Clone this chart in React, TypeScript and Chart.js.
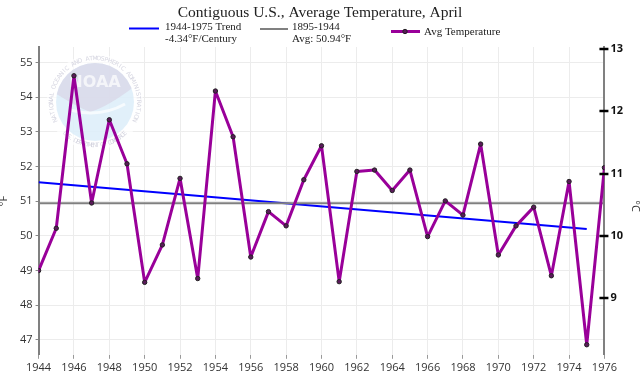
import { useEffect, useRef } from 'react';
import { Chart, registerables } from 'chart.js';
Chart.register(...registerables);

const chartTitle = 'Contiguous U.S., Average Temperature, April';
const years = [1944, 1945, 1946, 1947, 1948, 1949, 1950, 1951, 1952, 1953, 1954, 1955, 1956, 1957, 1958, 1959, 1960, 1961, 1962, 1963, 1964, 1965, 1966, 1967, 1968, 1969, 1970, 1971, 1972, 1973, 1974, 1975, 1976];
const avgTempF = [49.0, 50.22, 54.62, 50.95, 53.35, 52.08, 48.66, 49.74, 51.66, 48.77, 54.18, 52.86, 49.39, 50.70, 50.29, 51.62, 52.60, 48.68, 51.86, 51.90, 51.31, 51.90, 49.98, 51.01, 50.60, 52.65, 49.45, 50.29, 50.83, 48.85, 51.57, 46.86, 51.97];
const trendYears = [1944, 1975];
const trendF = [51.55, 50.2];
const baseYears = [1944, 1976];
const baseF = [50.94, 50.94];
const xTicks = [1944, 1946, 1948, 1950, 1952, 1954, 1956, 1958, 1960, 1962, 1964, 1966, 1968, 1970, 1972, 1974, 1976];
const fTicks = [47, 48, 49, 50, 51, 52, 53, 54, 55];
const cTicks = [9, 10, 11, 12, 13];
const trendLabel = ['1944-1975 Trend', '-4.34°F/Century'];
const baseLabel = ['1895-1944', 'Avg: 50.94°F'];
const tempLabel = 'Avg Temperature';
const fMin = 46.57;
const fMax = 55.45;
const toC = (f: number) => ((f - 32) * 5) / 9;

const BLUE = '#0000ff';
const GREY = '#808080';
const PURPLE = '#990099';

function drawArcText(ctx: CanvasRenderingContext2D, text: string, cx: number, cy: number, r: number, startAng: number, endAng: number, outside: boolean) {
  const n = text.length;
  for (let i = 0; i < n; i++) {
    const a = startAng + ((endAng - startAng) * (i + 0.5)) / n;
    ctx.save();
    ctx.translate(cx + r * Math.cos(a), cy + r * Math.sin(a));
    ctx.rotate(outside ? a + Math.PI / 2 : a - Math.PI / 2);
    ctx.fillText(text[i], 0, 0);
    ctx.restore();
  }
}

const decor = {
  id: 'decor',
  beforeDatasetsDraw(chart: any) {
    const ctx = chart.ctx as CanvasRenderingContext2D;
    const cx = 95, cy = 102;
    ctx.save();
    ctx.globalAlpha = 0.7;
    ctx.fillStyle = '#ffffff';
    ctx.beginPath(); ctx.arc(cx, cy, 48, 0, Math.PI * 2); ctx.fill();
    ctx.beginPath(); ctx.arc(cx, cy, 39, 0, Math.PI * 2); ctx.fillStyle = '#d4eaf8'; ctx.fill();
    ctx.save();
    ctx.beginPath(); ctx.arc(cx, cy, 39, 0, Math.PI * 2); ctx.clip();
    ctx.beginPath();
    ctx.moveTo(cx - 45, cy - 12);
    ctx.quadraticCurveTo(cx - 20, cy + 4, cx - 5, cy + 10);
    ctx.quadraticCurveTo(cx + 15, cy + 4, cx + 45, cy - 20);
    ctx.lineTo(cx + 45, cy - 50); ctx.lineTo(cx - 45, cy - 50); ctx.closePath();
    ctx.fillStyle = '#d8d4e6'; ctx.fill();
    ctx.strokeStyle = '#ffffff'; ctx.lineWidth = 3;
    ctx.beginPath();
    ctx.moveTo(cx - 25, cy + 8);
    ctx.quadraticCurveTo(cx + 5, cy + 16, cx + 30, cy + 2);
    ctx.stroke();
    ctx.restore();
    ctx.fillStyle = '#ffffff';
    ctx.font = 'bold 16px "DejaVu Sans"';
    ctx.textAlign = 'center'; ctx.textBaseline = 'middle';
    ctx.fillText('NOAA', cx, cy - 19);
    ctx.fillStyle = '#c4c4d4';
    ctx.font = '6px "DejaVu Sans"';
    drawArcText(ctx, 'NATIONAL OCEANIC AND ATMOSPHERIC ADMINISTRATION', cx, cy, 43.5, Math.PI * 0.85, Math.PI * 2.15, true);
    drawArcText(ctx, 'U.S. DEPARTMENT OF COMMERCE', cx, cy, 43.5, Math.PI * 0.75, Math.PI * 0.25, false);
    ctx.restore();
  },
  afterDraw(chart: any) {
    const ctx = chart.ctx as CanvasRenderingContext2D;
    const area = chart.chartArea;
    ctx.save();
    // title
    ctx.fillStyle = '#222';
    ctx.font = '15.5px "Liberation Serif"';
    ctx.textAlign = 'center'; ctx.textBaseline = 'middle';
    ctx.fillText(chartTitle, 320, 13);
    // legend
    ctx.font = '11px "Liberation Serif"';
    ctx.textAlign = 'left';
    ctx.lineCap = 'butt';
    ctx.strokeStyle = BLUE; ctx.lineWidth = 2;
    ctx.beginPath(); ctx.moveTo(129, 28.5); ctx.lineTo(159, 28.5); ctx.stroke();
    ctx.fillText(trendLabel[0], 165, 27);
    ctx.fillText(trendLabel[1], 165, 39);
    ctx.strokeStyle = GREY; ctx.lineWidth = 2;
    ctx.beginPath(); ctx.moveTo(260, 29); ctx.lineTo(288, 29); ctx.stroke();
    ctx.fillText(baseLabel[0], 292, 27);
    ctx.fillText(baseLabel[1], 292, 39);
    ctx.strokeStyle = PURPLE; ctx.lineWidth = 3;
    ctx.beginPath(); ctx.moveTo(391, 31.5); ctx.lineTo(420, 31.5); ctx.stroke();
    ctx.beginPath(); ctx.arc(405, 31.5, 2.2, 0, Math.PI * 2);
    ctx.fillStyle = '#5a1a5a'; ctx.fill(); ctx.strokeStyle = '#222'; ctx.lineWidth = 1; ctx.stroke();
    ctx.fillStyle = '#222';
    ctx.fillText(tempLabel, 424, 32);
    // axis titles
    ctx.font = '11px "Open Sans"';
    ctx.fillStyle = '#333';
    ctx.textAlign = 'center';
    ctx.save(); ctx.translate(4, 201); ctx.rotate(-Math.PI / 2); ctx.fillText('°F', 0, 0); ctx.restore();
    ctx.save(); ctx.translate(635, 206); ctx.rotate(Math.PI / 2); ctx.fillText('°C', 0, 0); ctx.restore();
    // right axis tick marks crossing the axis
    const y2 = chart.scales.y2;
    ctx.strokeStyle = '#000'; ctx.lineWidth = 2.5;
    cTicks.forEach((t) => {
      const py = Math.round(y2.getPixelForValue(t));
      ctx.beginPath(); ctx.moveTo(area.right - 5, py); ctx.lineTo(area.right + 4, py); ctx.stroke();
    });
    ctx.restore();
  },
};

export default function App() {
  const ref = useRef<HTMLCanvasElement>(null);
  useEffect(() => {
    document.body.style.margin = '0';
    const tickFont = { family: '"Open Sans"', size: 11 };
    const chart = new Chart(ref.current!, {
      type: 'line',
      data: {
        datasets: [
          {
            label: tempLabel,
            data: years.map((x, i) => ({ x, y: avgTempF[i] })),
            borderColor: PURPLE,
            borderWidth: 3,
            borderJoinStyle: 'round',
            borderCapStyle: 'round',
            pointRadius: 2.2,
            pointBackgroundColor: '#5a1a5a',
            pointBorderColor: '#222',
            pointBorderWidth: 1,
            yAxisID: 'y',
          },
          {
            label: baseLabel.join(' '),
            data: baseYears.map((x, i) => ({ x, y: baseF[i] })),
            borderColor: GREY,
            borderWidth: 2,
            pointRadius: 0,
            yAxisID: 'y',
          },
          {
            label: trendLabel.join(' '),
            data: trendYears.map((x, i) => ({ x, y: trendF[i] })),
            borderColor: BLUE,
            borderWidth: 2,
            pointRadius: 0,
            yAxisID: 'y',
          },
        ],
      },
      options: {
        responsive: false,
        animation: false,
        devicePixelRatio: 1,
        layout: { padding: { top: 47, left: 17, right: 15, bottom: 8 } },
        plugins: { legend: { display: false }, title: { display: false }, tooltip: { enabled: false } },
        scales: {
          x: {
            type: 'linear',
            min: 1944,
            max: 1976,
            afterBuildTicks: (axis: any) => { axis.ticks = xTicks.map((v) => ({ value: v })); },
            ticks: { font: tickFont, color: '#333', padding: 2, maxRotation: 0, callback: (v: any) => String(v) },
            grid: { color: '#ececec', tickColor: '#999', tickLength: 4, lineWidth: 1 },
            border: { display: false },
          },
          y: {
            position: 'left',
            min: fMin,
            max: fMax,
            afterBuildTicks: (axis: any) => { axis.ticks = fTicks.map((v) => ({ value: v })); },
            ticks: { font: tickFont, color: '#333', padding: 3 },
            grid: { color: '#ececec', tickColor: '#888', tickLength: 3 },
            border: { color: GREY, width: 2 },
          },
          y2: {
            position: 'right',
            min: toC(fMin),
            max: toC(fMax),
            afterBuildTicks: (axis: any) => { axis.ticks = cTicks.map((v) => ({ value: v })); },
            ticks: { font: { ...tickFont, weight: 'bold' }, color: '#111', padding: 2 },
            grid: { drawOnChartArea: false, tickColor: 'rgba(0,0,0,0)', tickLength: 4 },
            border: { color: GREY, width: 2 },
          },
        },
      },
      plugins: [decor],
    } as any);
    return () => chart.destroy();
  }, []);
  return (
    <div style={{ position: 'absolute', left: 0, top: 0, width: 640, height: 384 }}>
      <canvas ref={ref} width={640} height={384} />
    </div>
  );
}
